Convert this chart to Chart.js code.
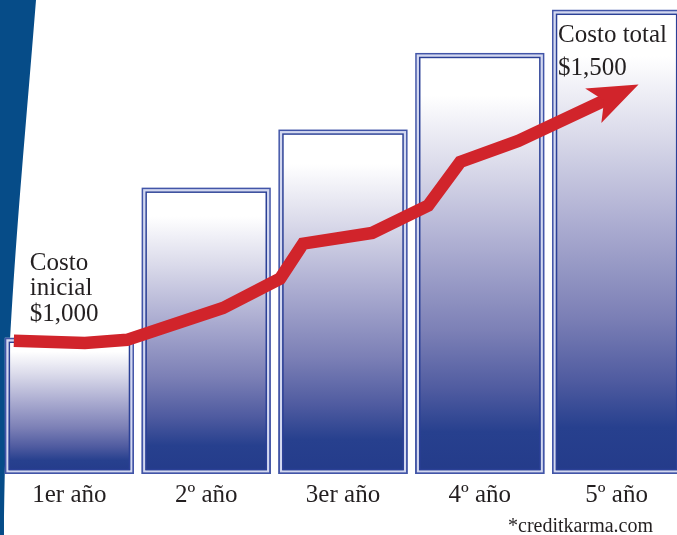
<!DOCTYPE html>
<html>
<head>
<meta charset="utf-8">
<script src="https://cdn.jsdelivr.net/npm/chart.js@4/dist/chart.umd.min.js"></script>
<style>
  html, body { margin: 0; padding: 0; background: #ffffff; overflow: hidden; width: 677px; height: 535px; }
  #wrap { position: relative; width: 690px; height: 535px; }
</style>
</head>
<body>
<div id="wrap"><canvas id="c" width="690" height="535"></canvas></div>
<script>
// ---- data ----
const categorias = ['1er año', '2º año', '3er año', '4º año', '5º año'];
const barrasCosto = [1006, 1298, 1411, 1560, 1644];
// red trend line (x in category units, value in dollars)
const lineaX = [-0.406, 0.113, 0.421, 1.123, 1.540, 1.708, 2.213, 2.622, 2.857, 3.281, 3.922];
const lineaCosto = [1000, 996, 1002, 1064, 1121, 1189, 1210, 1263, 1348, 1389, 1469];
const etiquetaInicial = ['Costo', 'inicial', '$1,000'];
const etiquetaTotal = ['Costo total', '$1,500'];
const fuenteTexto = '*creditkarma.com';
const escalaMin = 741, escalaMax = 1663;

const SERIF = '"Liberation Serif", "DejaVu Serif", serif';
const TEXT = '#231f20';
const RED = '#d1242b';

const puntosLinea = lineaX.map((x, i) => ({ x: x, y: lineaCosto[i] }));

const bandPlugin = {
  id: 'band',
  beforeDatasetsDraw(chart) {
    const ctx = chart.ctx;
    ctx.save();
    ctx.fillStyle = '#064c88';
    ctx.beginPath();
    ctx.moveTo(0, 0);
    ctx.lineTo(36, 0);
    ctx.bezierCurveTo(20, 200, 6, 330, 4, 535);
    ctx.lineTo(0, 535);
    ctx.closePath();
    ctx.fill();
    ctx.restore();
  }
};

const decoPlugin = {
  id: 'deco',
  afterDatasetDraw(chart, args) {
    const ctx = chart.ctx;
    if (args.index === 0) {
      // double borders of bars
      const meta = chart.getDatasetMeta(0);
      ctx.save();
      meta.data.forEach(el => {
        const l = el.x - el.width / 2, r = el.x + el.width / 2;
        const t = Math.min(el.y, el.base), b = Math.max(el.y, el.base);
        const w = r - l, h = b - t;
        ctx.lineWidth = 2.5; ctx.strokeStyle = '#d3d8f0';
        ctx.strokeRect(l + 2.5, t + 2.5, w - 5, h - 5);
        ctx.lineWidth = 1.5; ctx.strokeStyle = '#4255a8';
        ctx.strokeRect(l + 0.75, t + 0.75, w - 1.5, h - 1.5);
        ctx.lineWidth = 1.5; ctx.strokeStyle = '#2b4096';
        ctx.strokeRect(l + 4.5, t + 4.5, w - 9, h - 9);
      });
      ctx.restore();
    }
    if (args.index === 1) {
      // arrow head at the end of the red line
      const pts = chart.getDatasetMeta(1).data;
      const p1 = pts[pts.length - 2], p2 = pts[pts.length - 1];
      const ang = Math.atan2(p2.y - p1.y, p2.x - p1.x);
      const ux = Math.cos(ang), uy = Math.sin(ang), nx = -uy, ny = ux;
      const tip = { x: p2.x + 36 * ux, y: p2.y + 36 * uy };
      const L = 50, HW = 19;
      ctx.save();
      ctx.fillStyle = RED;
      ctx.beginPath();
      ctx.moveTo(tip.x, tip.y);
      ctx.lineTo(tip.x - L * ux + HW * nx, tip.y - L * uy + HW * ny);
      ctx.lineTo(tip.x - 38 * ux, tip.y - 38 * uy);
      ctx.lineTo(tip.x - L * ux - HW * nx, tip.y - L * uy - HW * ny);
      ctx.closePath();
      ctx.fill();
      ctx.restore();
    }
  },
  afterDraw(chart) {
    const ctx = chart.ctx;
    ctx.save();
    ctx.fillStyle = TEXT;
    ctx.font = '25px ' + SERIF;
    ctx.textAlign = 'left';
    ctx.textBaseline = 'alphabetic';
    const p0 = chart.getDatasetMeta(1).data[0];
    etiquetaInicial.forEach((s, i) => {
      ctx.fillText(s, p0.x + 16, p0.y - 71 + i * 25.5);
    });
    const b5 = chart.getDatasetMeta(0).data[4];
    const l5 = b5.x - b5.width / 2;
    etiquetaTotal.forEach((s, i) => {
      ctx.fillText(s, l5 + 6, b5.y + 32 + i * 33);
    });
    ctx.font = '20px ' + SERIF;
    ctx.textAlign = 'right';
    ctx.fillText(fuenteTexto, 653, 532);
    ctx.restore();
  }
};

function barGradient(c) {
  const ch = c.chart, area = ch.chartArea;
  if (!area || c.type !== 'data' || !ch.scales.y) return '#8a8cbd';
  const top = ch.scales.y.getPixelForValue(c.raw);
  const g = ch.ctx.createLinearGradient(0, top, 0, area.bottom);
  g.addColorStop(0, '#ffffff');
  g.addColorStop(0.1, '#ffffff');
  g.addColorStop(0.27, '#dadaea');
  g.addColorStop(0.47, '#aaabd0');
  g.addColorStop(0.66, '#7c80b6');
  g.addColorStop(0.8, '#4f5ba0');
  g.addColorStop(0.9, '#27408e');
  g.addColorStop(1, '#243b8a');
  return g;
}

new Chart(document.getElementById('c'), {
  type: 'bar',
  data: {
    labels: categorias,
    datasets: [
      {
        type: 'bar',
        data: barrasCosto,
        base: escalaMin,
        grouped: false,
        backgroundColor: barGradient,
        borderWidth: 0,
        barPercentage: 0.944,
        categoryPercentage: 1,
        xAxisID: 'x',
        yAxisID: 'y',
        order: 2
      },
      {
        type: 'line',
        data: puntosLinea,
        borderColor: RED,
        borderWidth: 12.5,
        borderJoinStyle: 'miter',
        borderCapStyle: 'butt',
        pointRadius: 0,
        tension: 0,
        fill: false,
        xAxisID: 'x2',
        yAxisID: 'y',
        order: 1,
        clip: false
      }
    ]
  },
  options: {
    responsive: false,
    animation: false,
    devicePixelRatio: 1,
    layout: { padding: { left: 1, right: 5, top: 0, bottom: 19 } },
    plugins: { legend: { display: false }, tooltip: { enabled: false } },
    scales: {
      x: {
        type: 'category',
        offset: true,
        grid: { display: false, drawTicks: false },
        border: { display: false },
        ticks: { color: TEXT, font: { family: SERIF, size: 25 }, padding: 6, maxRotation: 0, autoSkip: false }
      },
      x2: { type: 'linear', display: false, offset: false, grid: { offset: false }, min: -0.5, max: 4.5 },
      y: { display: false, min: escalaMin, max: escalaMax }
    }
  },
  plugins: [bandPlugin, decoPlugin]
});
</script>
</body>
</html>
